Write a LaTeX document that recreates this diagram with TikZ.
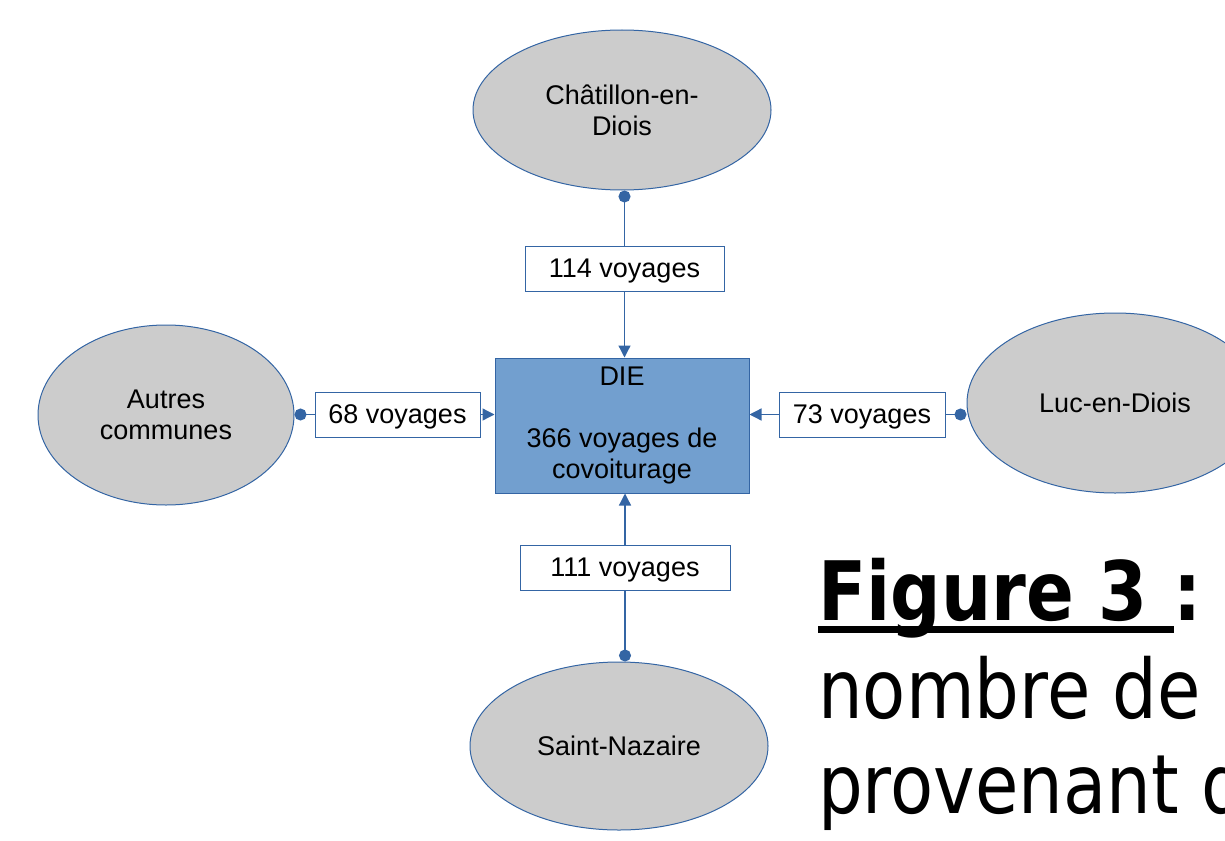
\documentclass[tikz,border=0pt]{standalone}
\usepackage{fontspec}
\setmainfont{Liberation Sans}
\newfontfamily\capfont[FakeStretch=0.86]{DejaVu Sans}
\usetikzlibrary{shapes.geometric,arrows.meta}
\definecolor{lineblue}{HTML}{3465A4}
\definecolor{boxblue}{HTML}{729FCF}
\definecolor{villegray}{HTML}{CCCCCC}

\begin{document}
\begin{tikzpicture}[x=1pt,y=-1pt,font=\fontsize{27}{31}\selectfont,
		ville/.style={ellipse,draw=lineblue,fill=villegray,line width=1pt,inner sep=0pt,align=center},
		diebox/.style={rectangle,draw=lineblue,fill=boxblue,line width=1pt,inner sep=0pt,align=center},
		nbvoy/.style={rectangle,draw=lineblue,fill=white,line width=1pt,inner sep=0pt,minimum height=45pt,text depth=0pt},
		lien/.style={lineblue,line width=1.3pt},
		depart/.style={lien,{Circle[length=12pt]}-},
		arrivee/.style={lien,-{Triangle[length=12pt,width=12pt]}},
		capt/.style={font=\capfont\fontsize{82}{96}\selectfont,inner sep=0pt,anchor=base west}]
			\useasboundingbox (0,0) rectangle (1225,840);
			\node[ville,minimum width=298pt,minimum height=160pt] (chat) at (622,110) {Châtillon-en-\\Diois};
			\node[ville,minimum width=256pt,minimum height=180pt] (autres) at (166,415) {Autres\\communes};
			\node[ville,minimum width=296pt,minimum height=180pt] (luc) at (1115,403) {Luc-en-Diois};
			\node[ville,minimum width=298pt,minimum height=168pt] (stn) at (619,746) {Saint-Nazaire};
			\node[diebox,minimum width=254pt,minimum height=135pt] (die) at (622,425.5) {DIE\\[31pt]366 voyages de\\covoiturage};
			\node[nbvoy,minimum width=199pt] (l114) at (624.5,268.5) {114 voyages};
			\node[nbvoy,minimum width=165pt] (l68) at (397.5,414.5) {68 voyages};
			\node[nbvoy,minimum width=166pt] (l73) at (862,414.5) {73 voyages};
			\node[nbvoy,minimum width=210pt] (l111) at (625,567.5) {111 voyages};
			\draw[depart] (chat.south -| l114) -- (l114);
			\draw[arrivee] (l114) -- (l114 |- die.north);
			\draw[depart] (l68 -| autres.east) -- (l68);
			\draw[arrivee] (l68) -- (l68 -| die.west);
			\draw[depart] (l73 -| luc.west) -- (l73);
			\draw[arrivee] (l73) -- (l73 -| die.east);
			\draw[depart] (stn.north -| l111) -- (l111);
			\draw[arrivee] (l111) -- (l111 |- die.south);
			\node[capt] (figt) at (818,620) {\bfseries Figure 3\kern 26pt};
			\node[capt] (colon) at (figt.base east) {\bfseries :};
			\draw[line width=7pt] ([yshift=-9pt]figt.base west) -- ([yshift=-9pt]figt.base east);
			\node[capt] (nombre) at (818,718) {nombre de};
			\node[capt] (prov) at (818,813) {provenant de};
		\end{tikzpicture}
\end{document}
